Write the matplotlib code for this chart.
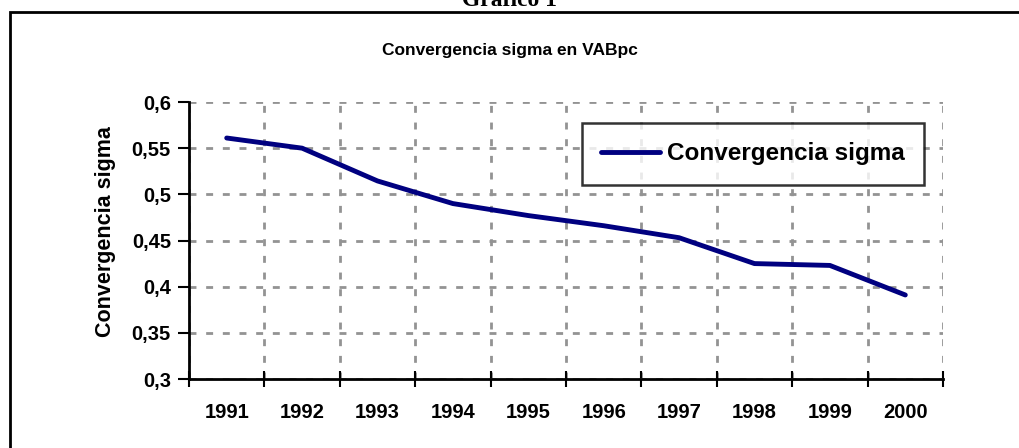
import matplotlib
matplotlib.use("Agg")
import matplotlib.pyplot as plt
from matplotlib.patches import Rectangle
from matplotlib.ticker import FixedLocator

years = ["1991", "1992", "1993", "1994", "1995", "1996", "1997", "1998", "1999", "2000"]
sigma = [0.561, 0.550, 0.5145, 0.490, 0.477, 0.466, 0.453, 0.425, 0.423, 0.391]
yticks = [0.3, 0.35, 0.4, 0.45, 0.5, 0.55, 0.6]
ytick_labels = ["0,3", "0,35", "0,4", "0,45", "0,5", "0,55", "0,6"]

plt.rcParams['font.family'] = ['Liberation Sans', 'DejaVu Sans']
W, H = 1020, 448
fig = plt.figure(figsize=(W / 100, H / 100), dpi=100)

# outer frame (extends beyond right/bottom edges)
fig.patches.append(Rectangle((10 / W, -0.1), 1.2, 1 - 12 / H + 0.1, transform=fig.transFigure,
                             fill=False, lw=2, ec='black'))
fig.text(0.5, 1 - 6 / H, "Gráfico 1", ha='center', va='baseline', fontsize=17,
         fontweight='bold', family=['Liberation Serif', 'DejaVu Serif'])

ax = fig.add_axes([189 / W, 1 - 379 / H, (943 - 189) / W, (379 - 102) / H])
x = list(range(len(years)))
ax.plot(x, sigma, color='#000080', lw=3.5, solid_capstyle='round', label='Convergencia sigma')

ax.set_xlim(-0.5, len(years) - 0.5)
ax.set_ylim(0.3, 0.6)
ax.xaxis.set_major_locator(FixedLocator([i - 0.5 for i in range(len(years) + 1)]))
ax.xaxis.set_minor_locator(FixedLocator(x))
ax.set_xticklabels([""] * (len(years) + 1))
ax.set_xticklabels(years, minor=True)
ax.tick_params(axis='x', which='major', direction='inout', length=12, width=1.5)
ax.tick_params(axis='x', which='minor', length=0, pad=17, labelsize=14.5)
ax.set_yticks(yticks)
ax.set_yticklabels(ytick_labels)
ax.tick_params(axis='y', direction='out', length=8, width=1.5, pad=5, labelsize=14.5)
for lab in ax.get_xticklabels(minor=True) + ax.get_yticklabels():
    lab.set_fontweight('bold')

ax.grid(True, which='major', color='#939393', ls=(0, (2.5, 3.5)), lw=2)
for s in ['top', 'right']:
    ax.spines[s].set_visible(False)
for s in ['left', 'bottom']:
    ax.spines[s].set_linewidth(2)
ax.set_ylabel("Convergencia sigma", fontsize=15.5, fontweight='bold', va='center')
ax.yaxis.set_label_coords((106 - 189) / (943 - 189), (379 - 232) / (379 - 102))

fig.text(0.5, 1 - 51 / H, "Convergencia sigma en VABpc", ha='center', va='center',
         fontsize=12.5, fontweight='bold')

leg = ax.legend(loc='upper left', bbox_to_anchor=((582 - 189) / (943 - 189), (379 - 123) / (379 - 102)),
                prop={'weight': 'bold', 'size': 17.5}, frameon=True, fancybox=False,
                handlelength=2.4, handletextpad=0.3, borderpad=0.8, borderaxespad=0)
leg.get_frame().set_edgecolor('black')
leg.get_frame().set_linewidth(1.8)

fig.savefig("out.png", dpi=100)
